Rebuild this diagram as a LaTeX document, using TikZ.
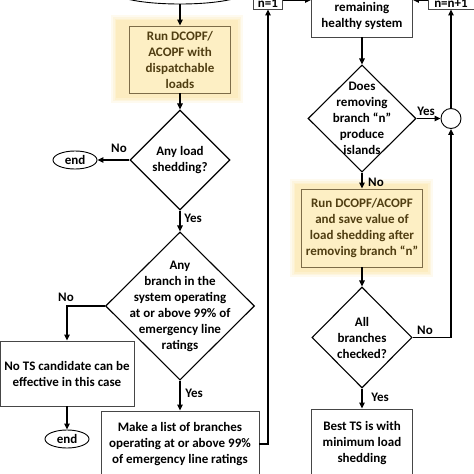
\documentclass[tikz,border=0pt]{standalone}
\usepackage{fontspec}
\setmainfont{Carlito}
\usetikzlibrary{shapes.geometric,arrows.meta,calc}
\definecolor{yfill}{RGB}{253,239,196}
\definecolor{yglow}{RGB}{252,236,192}
\definecolor{ytext}{RGB}{80,62,18}
\definecolor{bgray}{RGB}{70,70,70}
\definecolor{yborder}{RGB}{125,108,72}
\begin{document}
\begin{tikzpicture}[x=1pt,y=-1pt,
  every node/.style={font=\fontsize{13}{16}\selectfont\bfseries, inner sep=0pt},
  box/.style={rectangle, draw=bgray, line width=0.9pt, fill=white, align=center},
  ybox/.style={box, fill=yfill, draw=yborder, text=ytext},
  dia/.style={diamond, draw=black, line width=1.1pt, fill=white},
  lbl/.style={align=center},
  term/.style={ellipse, draw=black, line width=0.9pt, fill=white},
  arr/.style={line width=1.1pt, -{Triangle[length=6pt,width=5.5pt]}},
  tag/.style={}
]
\useasboundingbox (0,0) rectangle (474,474);
\clip (0,0) rectangle (474,474);

% glows
\foreach \e/\o in {5/0.25,3/0.35,1.5/0.5,0/1}{
  \fill[yglow, opacity=\o] ({116-\e},{20-\e}) rectangle ({238+\e},{98+\e});
  \fill[yglow, opacity=\o] ({295-\e},{184-\e}) rectangle ({428+\e},{272+\e});
}

% nodes
\node[term, minimum width=130pt, minimum height=24pt] (start) at (180,-8) {};
\node[ybox, minimum width=101pt, minimum height=67pt] (run1) at (180,59.5) {Run DCOPF/\\ACOPF with\\dispatchable\\loads};
\node[dia, minimum width=100pt, minimum height=100pt, label={[lbl]center:{Any load\\shedding?}}] (d1) at (180,160) {};
\node[term, minimum width=44pt, minimum height=18pt] (end1) at (75,160) {end};
\node[dia, minimum width=149pt, minimum height=148pt, label={[lbl]center:{Any\\branch in the\\system operating\\at or above 99\% of\\emergency line\\ratings}}] (d2) at (180,306) {};
\node[box, minimum width=134pt, minimum height=65pt] (nots) at (67,373.5) {No TS candidate can be\\effective in this case};
\node[term, minimum width=44pt, minimum height=18pt] (end2) at (67,439) {end};
\node[box, minimum width=158pt, minimum height=66pt] (list) at (180,444) {Make a list of branches\\operating at or above 99\%\\of emergency line ratings};
\node[box, minimum width=29pt, minimum height=18pt, text height=14pt, text depth=0pt] (n1) at (268,0) {n=1};
\node[box, minimum width=101pt, minimum height=58pt, label={[lbl,yshift=-8pt]center:{remaining\\healthy system}}] (rem) at (362,8) {};
\node[box, minimum width=46pt, minimum height=18pt, text height=14pt, text depth=0pt] (nn1) at (451,0) {n=n+1};
\node[dia, minimum width=108pt, minimum height=107pt, label={[lbl]center:{Does\\removing\\branch “n”\\produce\\islands}}] (d3) at (362,118.5) {};
\node[circle, draw=black, line width=0.9pt, minimum size=20pt, fill=white] (circ) at (451,118.5) {};
\node[ybox, minimum width=121pt, minimum height=78pt] (run2) at (362,228) {Run DCOPF/ACOPF\\and save value of\\load shedding after\\removing branch “n”};
\node[dia, minimum width=100pt, minimum height=101pt, label={[lbl]center:{All\\branches\\checked?}}] (d4) at (362,337.5) {};
\node[box, minimum width=101pt, minimum height=68pt] (best) at (362,443) {Best TS is with\\minimum load\\shedding};

% connectors
\draw[arr] (start) -- (run1);
\draw[arr] (run1) -- (d1);
\draw[arr] (d1.west) -- (end1.east);
\draw[arr] (d1.south) -- (d2.north);
\draw[arr] (d2.west) -| (nots.north);
\draw[arr] (nots.south) -- (end2.north);
\draw[arr] (d2.south) -- (list.north);
\draw[arr] (list.east) -| (n1.south);
\draw[arr] (n1.east) -- (n1.east -| rem.west);
\draw[arr] (nn1.west) -- (nn1.west -| rem.east);
\draw[arr] (rem.south) -- (d3.north);
\draw[arr] (d3.east) -- (circ.west);
\draw[arr] (circ.north) -- (nn1.south);
\draw[arr] (d3.south) -- (run2.north);
\draw[arr] (run2.south) -- (d4.north);
\draw[arr] (d4.east) -| (circ.south);
\draw[arr] (d4.south) -- (best.north);

% edge labels
\node[tag] (l1) at (119,148) {No};
\node[tag] (l2) at (193,218) {Yes};
\node[tag] (l3) at (66,297) {No};
\node[tag] (l4) at (194,393) {Yes};
\node[tag] (l5) at (426,111) {Yes};
\node[tag] (l6) at (376,182) {No};
\node[tag] (l7) at (425,330) {No};
\node[tag] (l8) at (380,397) {Yes};
\end{tikzpicture}
\end{document}
